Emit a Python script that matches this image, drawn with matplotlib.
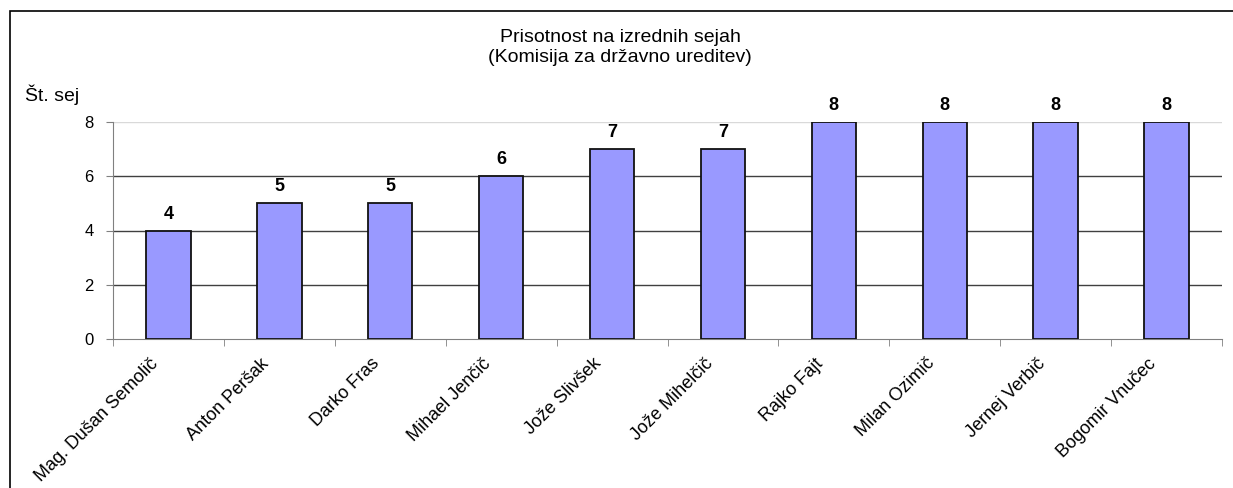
import numpy as np
import matplotlib
matplotlib.use('Agg')
import matplotlib.pyplot as plt
from matplotlib.patches import Rectangle
from matplotlib.transforms import ScaledTranslation

# podatki
names = ['Mag. Dušan Semolič', 'Anton Peršak', 'Darko Fras', 'Mihael Jenčič',
         'Jože Slivšek', 'Jože Mihelčič', 'Rajko Fajt', 'Milan Ozimič',
         'Jernej Verbič', 'Bogomir Vnučec']
sessions = [4, 5, 5, 6, 7, 7, 8, 8, 8, 8]
yticks = [0, 2, 4, 6, 8]

plt.rcParams['font.family'] = ['Liberation Sans', 'DejaVu Sans']

fig = plt.figure(figsize=(12.33, 4.88), dpi=100)
ax = fig.add_axes([113/1233, 1 - 339/488, 1109/1233, 217/488])

x = np.arange(len(names))
ax.bar(x, sessions, width=0.4, color='#9999ff', edgecolor='#111111', linewidth=1.3, zorder=3)
for xi, v in zip(x, sessions):
    ax.text(xi, v + 0.44, str(v), ha='center', va='baseline', fontsize=13, fontweight='bold')

ax.set_xlim(-0.5, len(names) - 0.5)
ax.set_ylim(0, 8)
ax.set_yticks(yticks)
ax.set_yticklabels([str(t) for t in yticks], fontsize=12)
ax.tick_params(axis='y', direction='out', length=5, color='#808080', pad=9)

# kategorije: oznake na sredini, kljukice med stolpci
ax.set_xticks(x)
ax.set_xticklabels(names, rotation=45, ha='right', va='top', rotation_mode='anchor', fontsize=13)
ax.tick_params(axis='x', length=0, pad=0)
offset = ScaledTranslation(-19/100, -16/100, fig.dpi_scale_trans)
for lab in ax.get_xticklabels():
    lab.set_transform(lab.get_transform() + offset)
ax.set_xticks(np.arange(-0.5, len(names)), minor=True)
ax.tick_params(axis='x', which='minor', direction='out', length=5, color='#808080')

ax.grid(axis='y', color='#404040', linewidth=1, zorder=0)
ax.get_ygridlines()[-1].set_color('#d9d9d9')
ax.get_ygridlines()[0].set_visible(False)

for s in ['top', 'right']:
    ax.spines[s].set_visible(False)
ax.spines['left'].set_color('#808080')
ax.spines['bottom'].set_color('#808080')

fig.text(0.503, 1 - 37/488, 'Prisotnost na izrednih sejah', ha='center', va='center', fontsize=14)
fig.text(0.503, 1 - 58/488, '(Komisija za državno ureditev)', ha='center', va='center', fontsize=14)
fig.text(25/1233, 1 - 95/488, 'Št. sej', ha='left', va='center', fontsize=14)

# okvir
fig.patches.append(Rectangle((10/1233, -0.01), 1.0, 1 - 11/488 + 0.01,
                             transform=fig.transFigure, fill=False,
                             edgecolor='black', linewidth=1.2))

fig.savefig('out.png', dpi=100)
plt.close()
